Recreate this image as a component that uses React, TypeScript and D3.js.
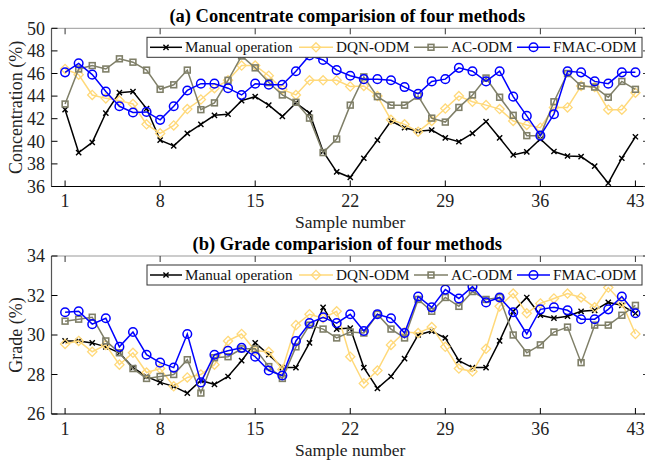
import React from "react";
import * as d3 from "d3";

const samples = d3.range(1, 44);
const xTicks = [1, 8, 15, 22, 29, 36, 43];
const yTicksA = [36, 38, 40, 42, 44, 46, 48, 50];
const yTicksB = [26, 28, 30, 32, 34];
const seriesNames = ["Manual operation", "DQN-ODM", "AC-ODM", "FMAC-ODM"];

const manualA = [42.8, 39.0, 39.9, 42.5, 44.3, 44.4, 42.9, 40.1, 39.6, 40.7, 41.5, 42.3, 42.4, 43.6, 43.95, 43.2, 42.2, 43.4, 42.5, 39.1, 37.3, 36.8, 38.5, 40.1, 41.8, 41.2, 40.9, 41.0, 40.3, 39.96, 40.7, 41.75, 40.3, 38.8, 39.07, 40.2, 39.1, 38.7, 38.65, 37.8, 36.3, 38.5, 40.4];
const dqnA = [46.4, 45.9, 44.1, 43.8, 43.6, 43.3, 41.5, 40.7, 41.4, 42.85, 43.7, 44.7, 45.4, 46.7, 46.7, 45.8, 44.6, 44.1, 45.4, 45.4, 45.4, 44.85, 44.9, 44.0, 41.9, 41.5, 40.85, 41.8, 42.9, 44.0, 43.5, 43.2, 42.85, 41.8, 41.45, 41.2, 43.0, 43.0, 44.9, 44.8, 42.8, 42.8, 44.3];
const acA = [43.3, 46.4, 46.7, 46.4, 47.3, 47.0, 46.3, 44.6, 45.0, 46.3, 42.8, 43.4, 45.4, 47.55, 46.5, 45.2, 44.1, 43.45, 42.05, 39.0, 40.2, 43.2, 45.7, 43.95, 43.2, 43.2, 44.0, 42.05, 41.7, 43.0, 44.1, 45.6, 43.9, 42.3, 40.5, 40.5, 43.5, 46.0, 44.9, 44.8, 43.9, 45.3, 44.6];
const fmacA = [46.1, 46.9, 45.9, 44.4, 43.1, 42.55, 42.6, 41.9, 43.1, 44.5, 45.1, 45.1, 44.7, 44.1, 45.1, 45.0, 45.0, 46.2, 47.6, 47.2, 46.3, 45.8, 45.5, 45.5, 45.4, 44.8, 44.2, 45.3, 45.5, 46.5, 46.2, 45.3, 46.2, 43.95, 42.25, 40.5, 42.4, 46.2, 46.1, 45.3, 45.1, 46.1, 46.1];

const manualB = [29.7, 29.7, 29.6, 29.4, 29.1, 28.35, 27.9, 27.6, 27.4, 27.06, 27.7, 27.5, 27.9, 28.7, 29.6, 29.0, 28.35, 28.35, 29.6, 31.4, 30.3, 30.35, 28.35, 27.3, 27.9, 28.8, 30.0, 30.2, 29.85, 28.7, 28.35, 28.35, 29.7, 31.2, 31.9, 31.0, 30.85, 30.95, 31.2, 31.25, 31.65, 31.5, 31.1];
const dqnB = [29.55, 29.7, 29.15, 29.5, 28.5, 29.1, 28.1, 28.3, 27.4, 27.85, 28.0, 28.5, 29.7, 30.05, 29.2, 29.15, 28.25, 30.5, 31.05, 30.85, 31.2, 28.9, 27.55, 28.2, 29.5, 30.15, 30.1, 30.4, 29.4, 28.3, 28.15, 29.3, 31.45, 32.1, 31.1, 31.6, 31.85, 32.1, 31.9, 31.4, 32.4, 31.65, 30.05];
const acB = [30.7, 30.8, 30.9, 29.7, 29.1, 28.3, 27.8, 27.9, 28.0, 28.75, 27.06, 28.85, 28.9, 29.3, 29.3, 28.4, 27.8, 29.4, 30.5, 30.3, 29.85, 30.15, 30.1, 31.05, 30.3, 29.85, 31.8, 31.2, 31.9, 31.45, 32.2, 31.8, 31.9, 30.0, 29.1, 29.5, 30.15, 30.4, 28.6, 30.5, 30.5, 31.0, 31.5];
const fmacB = [31.15, 31.2, 30.55, 30.85, 29.4, 30.15, 29.0, 28.6, 28.35, 30.05, 27.6, 29.0, 29.2, 29.35, 28.9, 28.2, 27.95, 29.7, 30.6, 30.9, 30.6, 31.05, 30.2, 31.05, 30.85, 30.1, 31.95, 31.4, 32.3, 31.85, 32.45, 31.65, 31.9, 31.15, 30.05, 31.3, 31.4, 31.25, 30.8, 30.8, 31.3, 31.95, 31.1];

const W = 645;
const H = 464;
const FONT = "'Liberation Serif', 'Times New Roman', serif";
const COLORS = ["#000000", "#FFD97A", "#7F7F68", "#0000FF"];
const MARKERS = ["x", "diamond", "square", "circle"];

const x = d3.scaleLinear().domain([0, 44]).range([51.5, 649]);

function Marker({ type, cx, cy, color }: { type: string; cx: number; cy: number; color: string }) {
  if (type === "x") {
    const s = 2.6;
    return (
      <path d={`M${cx - s},${cy - s}L${cx + s},${cy + s}M${cx - s},${cy + s}L${cx + s},${cy - s}`} stroke={color} strokeWidth={1.4} fill="none" />
    );
  }
  if (type === "diamond") {
    const s = 4.6;
    return <path d={`M${cx},${cy - s}L${cx + s},${cy}L${cx},${cy + s}L${cx - s},${cy}Z`} stroke={color} strokeWidth={1.3} fill="none" />;
  }
  if (type === "square") {
    const s = 2.9;
    return <rect x={cx - s} y={cy - s} width={2 * s} height={2 * s} stroke={color} strokeWidth={1.6} fill="none" />;
  }
  return <circle cx={cx} cy={cy} r={4.3} stroke={color} strokeWidth={1.5} fill="none" />;
}

function Panel({
  series,
  yDomain,
  yRange,
  yTicks,
  title,
  yLabel,
}: {
  series: number[][];
  yDomain: [number, number];
  yRange: [number, number];
  yTicks: number[];
  title: string;
  yLabel: string;
}) {
  const y = d3.scaleLinear().domain(yDomain).range(yRange);
  const [x0, x1] = x.range();
  const yb = yRange[0];
  const yt = yRange[1];
  const line = d3
    .line<number>()
    .x((_, i) => x(samples[i]))
    .y((d) => y(d));
  const legY = yt + 19;
  const legend = [
    { l0: 150, l1: 182, t: 185 },
    { l0: 299, l1: 333, t: 336 },
    { l0: 414, l1: 448, t: 451 },
    { l0: 517, l1: 550, t: 553 },
  ];
  return (
    <g>
      <text x={(x0 + x1) / 2 - 3} y={yt - 6} textAnchor="middle" fontFamily={FONT} fontWeight="bold" fontSize={18.5}>
        {title}
      </text>
      <line x1={x0} x2={x1} y1={yt} y2={yt} stroke="#999" strokeWidth={1} />
      <line x1={x1 - 0.5} x2={x1 - 0.5} y1={yt} y2={yb} stroke="#333" strokeWidth={1} />
      {series.map((vals, si) => (
        <g key={si}>
          <path d={line(vals) || ""} fill="none" stroke={COLORS[si]} strokeWidth={1.5} />
          {vals.map((v, i) => (
            <Marker key={i} type={MARKERS[si]} cx={x(samples[i])} cy={y(v)} color={COLORS[si]} />
          ))}
        </g>
      ))}
      <line x1={x0} x2={x0} y1={yt} y2={yb} stroke="#555" strokeWidth={1.2} />
      <line x1={x0} x2={x1} y1={yb} y2={yb} stroke="#000" strokeWidth={1} />
      {xTicks.map((t) => (
        <g key={t}>
          <line x1={x(t)} x2={x(t)} y1={yb} y2={yb - 6} stroke="#000" />
          <line x1={x(t)} x2={x(t)} y1={yt} y2={yt + 6} stroke="#333" />
          <text x={x(t)} y={yb + 20.5} textAnchor="middle" fontFamily={FONT} fontSize={18} fill="#222">
            {t}
          </text>
        </g>
      ))}
      {yTicks.map((t) => (
        <g key={t}>
          <line x1={x0} x2={x0 + 6} y1={y(t)} y2={y(t)} stroke="#000" />
          <line x1={x1} x2={x1 - 6} y1={y(t)} y2={y(t)} stroke="#333" />
          <text x={x0 - 6.5} y={y(t)} dy="0.35em" textAnchor="end" fontFamily={FONT} fontSize={18} fill="#222">
            {t}
          </text>
        </g>
      ))}
      <text x={(x0 + x1) / 2} y={yb + 41.5} textAnchor="middle" fontFamily={FONT} fontSize={17.5} fill="#222">
        Sample number
      </text>
      <text
        transform={`translate(22,${(yt + yb) / 2}) rotate(-90)`}
        textAnchor="middle"
        fontFamily={FONT}
        fontSize={18}
        fill="#222"
      >
        {yLabel}
      </text>
      <rect x={147} y={yt + 9} width={495} height={20} fill="#fff" stroke="#333" strokeWidth={1} />
      {legend.map((e, i) => (
        <g key={i}>
          <line x1={e.l0} x2={e.l1} y1={legY} y2={legY} stroke={COLORS[i]} strokeWidth={1.5} />
          <Marker type={MARKERS[i]} cx={(e.l0 + e.l1) / 2} cy={legY} color={COLORS[i]} />
          <text x={e.t} y={legY} dy="0.33em" fontFamily={FONT} fontSize={15.2} fill="#111">
            {seriesNames[i]}
          </text>
        </g>
      ))}
    </g>
  );
}

export default function App() {
  return (
    <svg
      width={W}
      height={H}
      viewBox={`0 0 ${W} ${H}`}
      style={{ position: "absolute", left: 0, top: 0, background: "#fff" }}
    >
      <rect x={0} y={0} width={W} height={H} fill="#fff" />
      <Panel
        series={[manualA, dqnA, acA, fmacA]}
        yDomain={[36, 50]}
        yRange={[186.5, 28.3]}
        yTicks={yTicksA}
        title="(a) Concentrate comparision of four methods"
        yLabel="Concentration (%)"
      />
      <Panel
        series={[manualB, dqnB, acB, fmacB]}
        yDomain={[26, 34]}
        yRange={[414, 256]}
        yTicks={yTicksB}
        title="(b) Grade comparision of four methods"
        yLabel="Grade (%)"
      />
    </svg>
  );
}
